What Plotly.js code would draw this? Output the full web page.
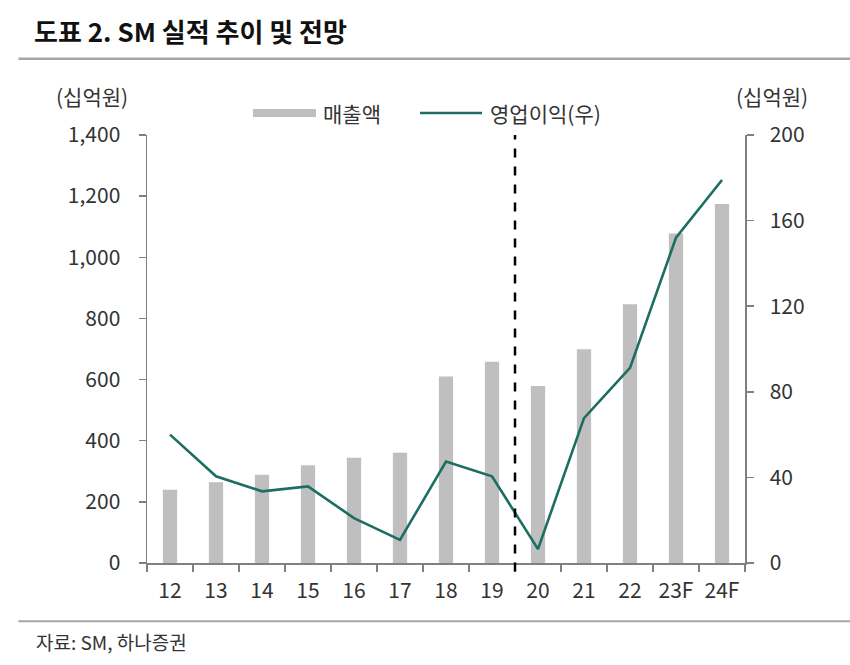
<!DOCTYPE html>
<html><head><meta charset="utf-8">
<script src="https://cdn.plot.ly/plotly-3.0.1.min.js"></script>
<style>html,body{margin:0;padding:0;background:#fff}#chart{width:850px;height:665px}</style>
</head><body><div id="chart"></div>
<script>
const categories = ['12','13','14','15','16','17','18','19','20','21','22','23F','24F'];
const revenue = [240, 264, 289, 320, 344, 361, 610, 658, 579, 699, 846, 1078, 1174];
const opProfit = [60, 40.5, 33.5, 35.8, 21, 10.8, 47.4, 40.5, 6.5, 67.7, 91.2, 152, 179];
const leftTicks = [0, 200, 400, 600, 800, 1000, 1200, 1400];
const leftTickText = ['0','200','400','600','800','1,000','1,200','1,400'];
const rightTicks = [0, 40, 80, 120, 160, 200];

const FONT = '"Noto Sans CJK KR", "Noto Sans", sans-serif';
const axisColor = '#808080';
const barColor = '#bfbfbf';
const lineColor = '#1d6e62';
const TXT = '#333';
const FS = 21;

const traces = [
  {type:'bar', x:categories, y:revenue, name:'매출액', marker:{color:barColor}, width:0.31, yaxis:'y'},
  {type:'scatter', mode:'lines', x:categories, y:opProfit, name:'영업이익(우)', line:{color:lineColor, width:2.6}, yaxis:'y2'}
];

const layout = {
  width:850, height:665,
  margin:{l:147, r:105, t:135, b:102},
  paper_bgcolor:'#fff', plot_bgcolor:'#fff',
  showlegend:false,
  font:{family:FONT, size:FS, color:TXT},
  xaxis:{type:'category', tickson:'boundaries', ticks:'outside', ticklen:7, tickwidth:1.5, tickcolor:axisColor,
         showline:true, linecolor:axisColor, linewidth:1.5, showgrid:false, zeroline:false,
         tickfont:{size:FS, color:TXT}, range:[-0.5,12.5], ticklabelstandoff:8},
  yaxis:{range:[0,1400], tickvals:leftTicks, ticktext:leftTickText, ticks:'outside', ticklen:7, tickwidth:1.5,
         tickcolor:axisColor, showline:true, linecolor:axisColor, linewidth:1.5, showgrid:false, zeroline:false,
         tickfont:{size:FS, color:TXT}, ticklabelstandoff:14},
  yaxis2:{overlaying:'y', side:'right', range:[0,200], tickvals:rightTicks, ticks:'outside', ticklen:7, tickwidth:1.5,
          tickcolor:axisColor, showline:true, linecolor:axisColor, linewidth:1.5, showgrid:false, zeroline:false,
          tickfont:{size:FS, color:TXT}, ticklabelstandoff:12},
  shapes:[
    {type:'line', xref:'x', yref:'paper', x0:7.5, x1:7.5, y0:-0.02, y1:1.0, line:{color:'#000', width:2.5, dash:'dash'}},
    {type:'line', xref:'paper', yref:'paper', x0:-0.215, x1:1.18, y0:1.178, y1:1.178, line:{color:'#a6a6a6', width:2.5}},
    {type:'line', xref:'paper', yref:'paper', x0:-0.215, x1:1.18, y0:-0.136, y1:-0.136, line:{color:'#a6a6a6', width:2}},
    {type:'rect', xref:'paper', yref:'paper', x0:(253-147)/598, x1:(316-147)/598, y0:(563-117)/428, y1:(563-109)/428, fillcolor:barColor, line:{width:0}},
    {type:'line', xref:'paper', yref:'paper', x0:(420-147)/598, x1:(482-147)/598, y0:(563-113)/428, y1:(563-113)/428, line:{color:lineColor, width:2.6}}
  ],
  annotations:[
    {text:'<b>도표 2. SM 실적 추이 및 전망</b>', xref:'paper', yref:'paper', x:(32-147)/598, y:(563-31)/428, xanchor:'left', yanchor:'middle', showarrow:false, font:{size:26, color:'#111', family:FONT}},
    {text:'(십억원)', xref:'paper', yref:'paper', x:(54-147)/598, y:(563-96)/428, xanchor:'left', yanchor:'middle', showarrow:false, font:{size:FS, color:TXT}},
    {text:'(십억원)', xref:'paper', yref:'paper', x:(810-147)/598, y:(563-96)/428, xanchor:'right', yanchor:'middle', showarrow:false, font:{size:FS, color:TXT}},
    {text:'매출액', xref:'paper', yref:'paper', x:(321-147)/598, y:(563-113)/428, xanchor:'left', yanchor:'middle', showarrow:false, font:{size:FS, color:TXT}},
    {text:'영업이익(우)', xref:'paper', yref:'paper', x:(488-147)/598, y:(563-113)/428, xanchor:'left', yanchor:'middle', showarrow:false, font:{size:FS, color:TXT}},
    {text:'자료: SM, 하나증권', xref:'paper', yref:'paper', x:(34-147)/598, y:(563-641)/428, xanchor:'left', yanchor:'middle', showarrow:false, font:{size:19, color:TXT}}
  ]
};

Plotly.newPlot('chart', traces, layout, {staticPlot:true, displayModeBar:false});
</script></body></html>
